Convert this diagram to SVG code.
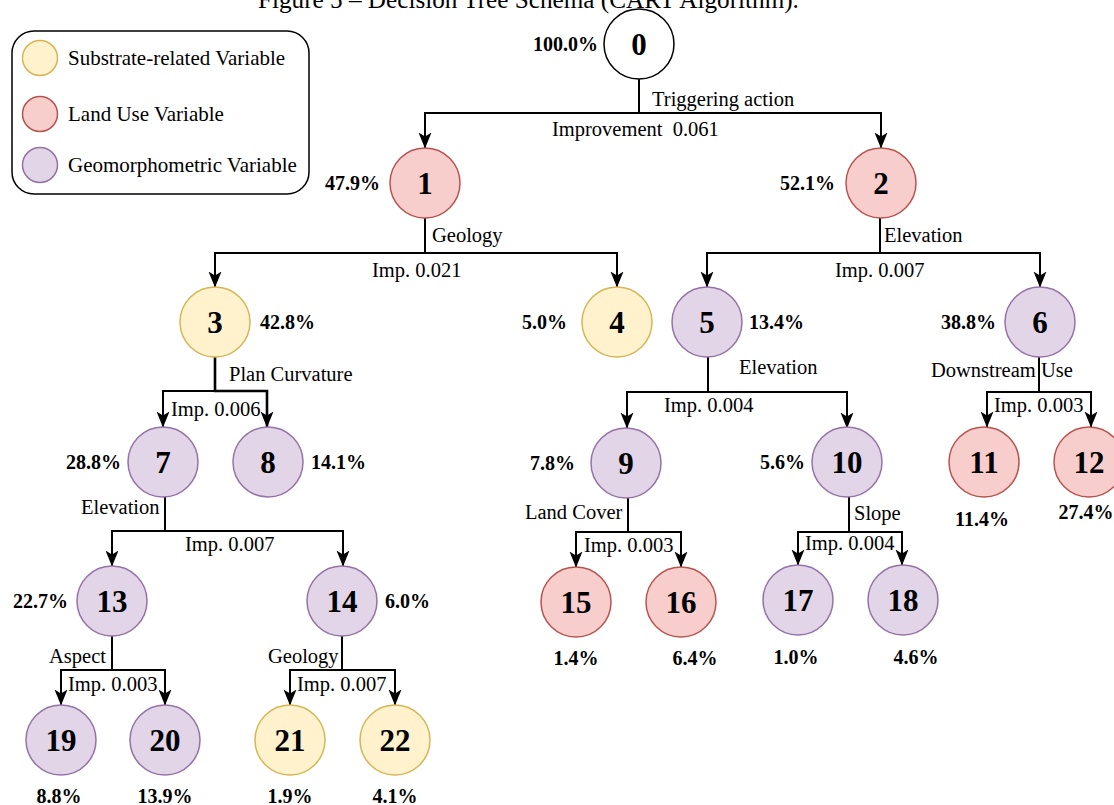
<svg xmlns="http://www.w3.org/2000/svg" width="1114" height="805" viewBox="0 0 1114 805">
<style>
  .t { font-family: "Liberation Serif", "Times New Roman", serif; font-size: 20.5px; fill: #000; }
  .lg { font-family: "Liberation Serif", "Times New Roman", serif; font-size: 21px; fill: #000; }
  .p { font-family: "Liberation Serif", "Times New Roman", serif; font-size: 20px; font-weight: bold; fill: #000; }
  .n { font-family: "Liberation Serif", "Times New Roman", serif; font-size: 31px; font-weight: bold; fill: #000; text-anchor: middle; }
  .title { font-family: "Liberation Serif", "Times New Roman", serif; font-size: 25.2px; fill: #000; }
  .y { fill: #fff2cc; stroke: #d6b656; stroke-width: 1.5; }
  .r { fill: #f8cecc; stroke: #b85450; stroke-width: 1.5; }
  .v { fill: #e1d5e7; stroke: #9673a6; stroke-width: 1.5; }
  .w { fill: #ffffff; stroke: #000000; stroke-width: 1.5; }
  .e { fill: none; stroke: #000; stroke-width: 2; marker-end: url(#arr); }
  .m { text-anchor: middle; }
  .end { text-anchor: end; }
</style>
<defs>
  <marker id="arr" viewBox="0 0 16 14" markerWidth="16" markerHeight="14" refX="15.5" refY="7" orient="auto" markerUnits="userSpaceOnUse">
    <path d="M0,0.5 L16,7 L0,13.5 L4,7 Z" fill="#000"/>
  </marker>
</defs>
<rect width="1114" height="805" fill="#ffffff"/>
<text class="title" x="258" y="8">Figure 5 – Decision Tree Schema (CART Algorithm).</text>

<g id="legend">
  <rect x="12" y="31" width="297" height="163" rx="22" ry="22" fill="#fff" stroke="#000" stroke-width="1.5"/>
  <circle class="y" cx="40" cy="58" r="17.5"/>
  <circle class="r" cx="40" cy="114" r="17.5"/>
  <circle class="v" cx="40" cy="165" r="17.5"/>
  <text class="lg" x="68" y="65">Substrate-related Variable</text>
  <text class="lg" x="68" y="121">Land Use Variable</text>
  <text class="lg" x="68" y="172">Geomorphometric Variable</text>
</g>

<g id="connectors">
  <path class="e" d="M639,79 V113 H425 V148"/>
  <path class="e" d="M639,79 V113 H881 V148"/>
  <path class="e" d="M425,218 V253 H215 V287"/>
  <path class="e" d="M425,218 V253 H617 V287"/>
  <path class="e" d="M880,218 V253 H707 V287"/>
  <path class="e" d="M880,218 V253 H1040 V287"/>
  <path class="e" d="M215,357 V391 H163 V427"/>
  <path class="e" d="M215,357 V391 H267 V427" style="stroke-width:2.6"/>
  <path class="e" d="M708,357 V392 H627 V428"/>
  <path class="e" d="M708,357 V392 H847 V428"/>
  <path class="e" d="M1039,357 V392 H987 V427"/>
  <path class="e" d="M1039,357 V392 H1091 V427"/>
  <path class="e" d="M165,497 V531 H112 V566"/>
  <path class="e" d="M165,497 V531 H343 V566"/>
  <path class="e" d="M628,498 V532 H576 V567"/>
  <path class="e" d="M628,498 V532 H681 V567"/>
  <path class="e" d="M849,497 V532 H798 V565"/>
  <path class="e" d="M849,497 V532 H902 V565"/>
  <path class="e" d="M112,636 V670 H61 V705"/>
  <path class="e" d="M112,636 V670 H165 V705"/>
  <path class="e" d="M342,636 V670 H290 V705"/>
  <path class="e" d="M342,636 V670 H395 V705"/>
</g>

<g id="edge-labels">
  <text class="t" x="652" y="106">Triggering action</text>
  <text class="t" x="552" y="136" xml:space="preserve">Improvement  0.061</text>
  <text class="t" x="432" y="242">Geology</text>
  <text class="t" x="372" y="277">Imp. 0.021</text>
  <text class="t" x="884" y="242">Elevation</text>
  <text class="t" x="835" y="277">Imp. 0.007</text>
  <text class="t" x="229" y="381">Plan Curvature</text>
  <text class="t" x="171" y="416">Imp. 0.006</text>
  <text class="t" x="739" y="374">Elevation</text>
  <text class="t" x="664" y="412">Imp. 0.004</text>
  <text class="t" x="931" y="377">Downstream Use</text>
  <text class="t" x="994" y="412">Imp. 0.003</text>
  <text class="t" x="81" y="514">Elevation</text>
  <text class="t" x="185" y="551">Imp. 0.007</text>
  <text class="t" x="525" y="519">Land Cover</text>
  <text class="t" x="584" y="552">Imp. 0.003</text>
  <text class="t" x="854" y="520">Slope</text>
  <text class="t" x="805" y="550">Imp. 0.004</text>
  <text class="t" x="49" y="663">Aspect</text>
  <text class="t" x="68" y="691">Imp. 0.003</text>
  <text class="t" x="268" y="663">Geology</text>
  <text class="t" x="297" y="691">Imp. 0.007</text>
</g>

<g id="node0"><circle class="w" cx="639" cy="44" r="35"/><text class="n" x="639" y="55">0</text><text class="p end" x="598" y="51">100.0%</text></g>
<g id="node1"><circle class="r" cx="425" cy="183" r="35"/><text class="n" x="425" y="194">1</text><text class="p end" x="380" y="190">47.9%</text></g>
<g id="node2"><circle class="r" cx="881" cy="183" r="35"/><text class="n" x="881" y="194">2</text><text class="p end" x="835" y="190">52.1%</text></g>
<g id="node3"><circle class="y" cx="215" cy="322" r="35"/><text class="n" x="215" y="333">3</text><text class="p" x="260" y="329">42.8%</text></g>
<g id="node4"><circle class="y" cx="617" cy="322" r="35"/><text class="n" x="617" y="333">4</text><text class="p end" x="567" y="329">5.0%</text></g>
<g id="node5"><circle class="v" cx="707" cy="322" r="35"/><text class="n" x="707" y="333">5</text><text class="p" x="749" y="329">13.4%</text></g>
<g id="node6"><circle class="v" cx="1040" cy="322" r="35"/><text class="n" x="1040" y="333">6</text><text class="p end" x="996" y="329">38.8%</text></g>
<g id="node7"><circle class="v" cx="163" cy="462" r="35"/><text class="n" x="163" y="473">7</text><text class="p end" x="121" y="469">28.8%</text></g>
<g id="node8"><circle class="v" cx="268" cy="462" r="35"/><text class="n" x="268" y="473">8</text><text class="p" x="311" y="469">14.1%</text></g>
<g id="node9"><circle class="v" cx="626" cy="463" r="35"/><text class="n" x="626" y="474">9</text><text class="p end" x="575" y="470">7.8%</text></g>
<g id="node10"><circle class="v" cx="847" cy="462" r="35"/><text class="n" x="847" y="473">10</text><text class="p end" x="805" y="469">5.6%</text></g>
<g id="node11"><circle class="r" cx="984" cy="462" r="35"/><text class="n" x="984" y="473">11</text><text class="p m" x="982" y="526">11.4%</text></g>
<g id="node12"><circle class="r" cx="1089" cy="462" r="35"/><text class="n" x="1089" y="473">12</text><text class="p m" x="1086" y="519">27.4%</text></g>
<g id="node13"><circle class="v" cx="112" cy="601" r="35"/><text class="n" x="112" y="612">13</text><text class="p end" x="68" y="608">22.7%</text></g>
<g id="node14"><circle class="v" cx="342" cy="601" r="35"/><text class="n" x="342" y="612">14</text><text class="p" x="385" y="608">6.0%</text></g>
<g id="node15"><circle class="r" cx="576" cy="602" r="35"/><text class="n" x="576" y="613">15</text><text class="p m" x="576" y="665">1.4%</text></g>
<g id="node16"><circle class="r" cx="681" cy="602" r="35"/><text class="n" x="681" y="613">16</text><text class="p m" x="695" y="665">6.4%</text></g>
<g id="node17"><circle class="v" cx="798" cy="600" r="35"/><text class="n" x="798" y="611">17</text><text class="p m" x="796" y="664">1.0%</text></g>
<g id="node18"><circle class="v" cx="903" cy="600" r="35"/><text class="n" x="903" y="611">18</text><text class="p m" x="916" y="664">4.6%</text></g>
<g id="node19"><circle class="v" cx="61" cy="740" r="35"/><text class="n" x="61" y="751">19</text><text class="p m" x="59" y="803">8.8%</text></g>
<g id="node20"><circle class="v" cx="165" cy="740" r="35"/><text class="n" x="165" y="751">20</text><text class="p m" x="165" y="803">13.9%</text></g>
<g id="node21"><circle class="y" cx="290" cy="740" r="35"/><text class="n" x="290" y="751">21</text><text class="p m" x="290" y="803">1.9%</text></g>
<g id="node22"><circle class="y" cx="395" cy="740" r="35"/><text class="n" x="395" y="751">22</text><text class="p m" x="395" y="803">4.1%</text></g>
</svg>
